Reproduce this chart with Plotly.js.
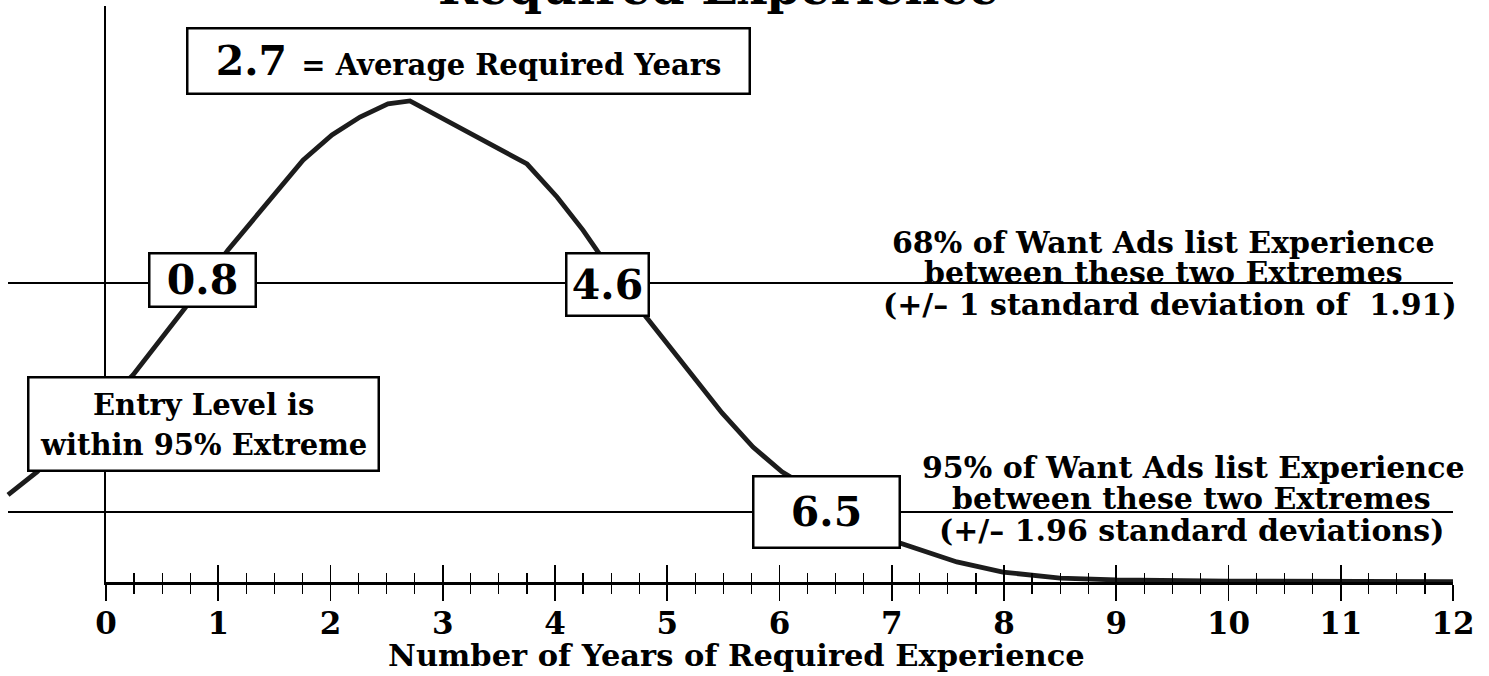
<!DOCTYPE html>
<html>
<head>
<meta charset="utf-8">
<script src="https://cdn.plot.ly/plotly-3.0.1.min.js"></script>
<style>html,body{margin:0;padding:0;background:#fff;}#chart{width:1489px;height:676px;}</style>
</head>
<body>
<div id="chart"></div>
<script>
// ---- data ----
const years = [0,1,2,3,4,5,6,7,8,9,10,11,12];
const yearLabels = ["0","1","2","3","4","5","6","7","8","9","10","11","12"];
const curveX = [-0.873,-0.615,0.241,0.704,1.087,1.523,1.755,2.013,2.263,2.512,2.708,3.751,4.018,4.249,4.383,4.784,5.140,5.488,5.764,6.022,7.073,7.58,7.99,8.5,9.0,10.0,12.0];
const curveY = [3.78,4.78,8.99,11.90,14.42,16.93,18.32,19.41,20.19,20.76,20.89,18.15,16.72,15.28,14.33,11.68,9.51,7.34,5.86,4.78,1.69,0.87,0.43,0.17,0.09,0.04,0.02];
const meanYears = 2.7;
const sdYears = 1.91;
const bandLows = [0.8];
const bandHighs = [4.6, 6.5];
const bandLevels = [12.98, 3.04];   // curve height at ±1 sd and ±1.96 sd
const titleText = "Required Experience";
const xTitle = "Number of Years of Required Experience";

// ---- layout helpers (pixel geometry of the frame) ----
const W = 1489, H = 676;
const mB = 94;
const pxPerYear = 112.25;
const x0px = 106;
const plotH = H - mB;                 // 582
const pxPerUnit = 23.03;
const xMin = -x0px / pxPerYear;
const xMax = xMin + W / pxPerYear;
const yDomTop = (plotH - 6) / plotH;
const yMax = (plotH - 6) / pxPerUnit;
const X = px => (px - x0px) / pxPerYear;
const Y = py => (plotH - py) / pxPerUnit;

const FONT = "DejaVu Serif";
const f = (size) => ({family: FONT, size: size, color: "#000", weight: "bold"});

const traces = [
  {x: curveX, y: curveY, xaxis: "x", yaxis: "y", mode: "lines",
   line: {color: "#1c1c1c", width: 4.8}, hoverinfo: "skip", showlegend: false},
  {x: [curveX[0], years[years.length-1]], y: [bandLevels[0], bandLevels[0]], xaxis: "x", yaxis: "y",
   mode: "lines", line: {color: "#000", width: 2}, hoverinfo: "skip", showlegend: false},
  {x: [curveX[0], years[years.length-1]], y: [bandLevels[1], bandLevels[1]], xaxis: "x", yaxis: "y",
   mode: "lines", line: {color: "#000", width: 2}, hoverinfo: "skip", showlegend: false},
  {x: [years[0]], y: [0], xaxis: "x2", yaxis: "y", mode: "markers", marker: {opacity: 0}, hoverinfo: "skip", showlegend: false},
  {x: [years[0]], y: [0], xaxis: "x3", yaxis: "y", mode: "markers", marker: {opacity: 0}, hoverinfo: "skip", showlegend: false}
];

function box(text, cx, cy, w, h, size) {
  return {text: text, xref: "x", yref: "y", x: X(cx), y: Y(cy), xanchor: "center", yanchor: "middle",
    showarrow: false, width: w, height: h, borderpad: 0, bordercolor: "#000", borderwidth: 2.5,
    bgcolor: "#fff", font: f(size), align: "center", valign: "middle"};
}
function label(text, cx, cy, size) {
  return {text: text, xref: "x", yref: "y", x: X(cx), y: Y(cy), xanchor: "center", yanchor: "middle",
    showarrow: false, font: f(size), align: "center"};
}

const annotations = [
  box(meanYears.toFixed(1) + ' <span style="font-size:29px">= Average Required Years</span>', 468, 61.5, 560, 63, 41),
  box(bandLows[0].toFixed(1), 202, 279.5, 104, 51, 41),
  box(bandHighs[0].toFixed(1), 607, 284, 80, 60, 41),
  box(bandHighs[1].toFixed(1), 826, 511.5, 144, 69, 41),
  box("", 203, 423.5, 348, 91, 26),
  label("Entry Level is", 203, 405, 29),
  label("within 95% Extreme", 203, 445, 29),
  label("68% of Want Ads list Experience", 1163, 243, 30),
  label("between these two Extremes", 1163, 272, 30),
  label("(+/\u2013 1 standard deviation of  " + sdYears.toFixed(2) + ")", 1170, 304, 30),
  label("95% of Want Ads list Experience", 1193, 467, 30),
  label("between these two Extremes", 1191, 498, 30),
  label("(+/\u2013 1.96 standard deviations)", 1191, 530, 30),
  {text: xTitle, xref: "x", yref: "paper", x: X(736), y: 0, yanchor: "middle", xanchor: "center",
   yshift: -(655 - plotH), showarrow: false, font: f(30.5)},
  {text: titleText, xref: "x", yref: "paper", x: X(718), y: 1, yanchor: "bottom", xanchor: "center",
   yshift: -17, showarrow: false, font: f(48)}
];

const layout = {
  width: W, height: H,
  margin: {l: 0, r: 0, t: 0, b: mB, pad: 0},
  paper_bgcolor: "#fff", plot_bgcolor: "rgba(0,0,0,0)",
  showlegend: false,
  xaxis: {domain: [0, 1], range: [xMin, xMax], visible: false, anchor: "y"},
  xaxis2: {domain: [x0px / W, (x0px + 12 * pxPerYear) / W], range: [years[0], years[years.length-1]],
    anchor: "y", showline: true, linecolor: "#000", linewidth: 2.5, showgrid: false, zeroline: false,
    ticks: "outside", ticklen: 16, tickwidth: 1.6, tickcolor: "#000",
    tickmode: "array", tickvals: years, showticklabels: false,
    minor: {ticks: "outside", dtick: 0.25, ticklen: 9, tickwidth: 1.2, tickcolor: "#000", showgrid: false}},
  xaxis3: {overlaying: "x2", range: [years[0], years[years.length-1]], anchor: "y",
    showline: false, showgrid: false, zeroline: false, showticklabels: true,
    ticks: "inside", ticklen: 17, tickwidth: 1.6, tickcolor: "#000",
    tickmode: "array", tickvals: years, ticktext: yearLabels, tickfont: f(31), ticklabelstandoff: 20,
    minor: {ticks: "inside", dtick: 0.25, ticklen: 9, tickwidth: 1.2, tickcolor: "#000", showgrid: false}},
  yaxis: {domain: [0, yDomTop], range: [0, yMax], anchor: "x2", showline: true, linecolor: "#000", linewidth: 2.5,
    showgrid: false, zeroline: false, ticks: "", showticklabels: false},
  annotations: annotations
};

Plotly.newPlot("chart", traces, layout, {staticPlot: true, displayModeBar: false});
</script>
</body>
</html>
